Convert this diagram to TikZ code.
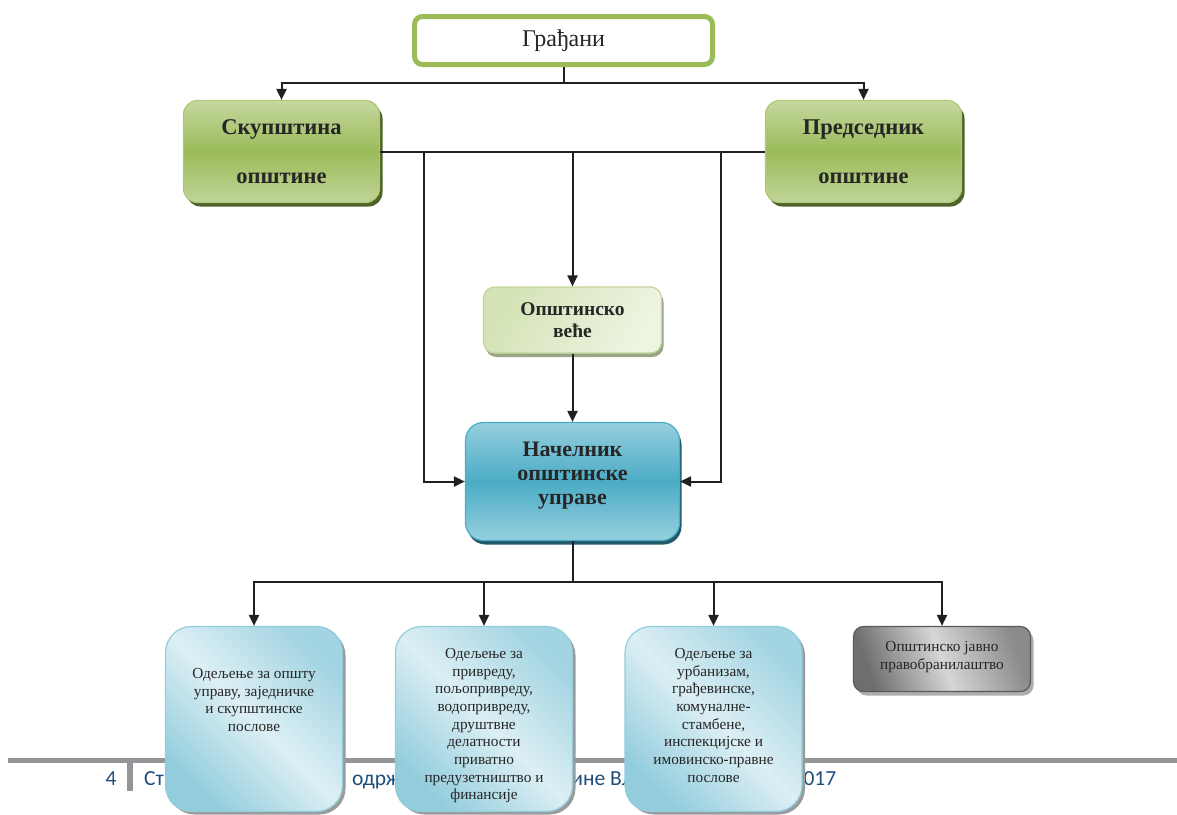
\documentclass[tikz,border=0pt]{standalone}
\usepackage{fontspec}
\setmainfont{Liberation Serif}
\newfontfamily\footfont{Carlito}
\usetikzlibrary{arrows.meta,shadows}
\definecolor{linec}{HTML}{231F20}
\definecolor{olive}{HTML}{9BBB59}
\definecolor{olivelt}{HTML}{C5D89F}
\definecolor{olivedk}{HTML}{4F6228}
\definecolor{palegr}{HTML}{D4E3B6}
\definecolor{palegr2}{HTML}{EEF4E2}
\definecolor{palegrb}{HTML}{C3D69B}
\definecolor{aqua}{HTML}{4BACC6}
\definecolor{aqualt}{HTML}{96CFDE}
\definecolor{aquadk}{HTML}{215968}
\definecolor{sky}{HTML}{93CDDD}
\definecolor{skylt}{HTML}{DCEFF4}
\definecolor{shgray}{HTML}{9A9A9A}
\definecolor{gdark}{HTML}{6E6E6E}
\definecolor{glight}{HTML}{D6D6D6}
\definecolor{gborder}{HTML}{595959}
\definecolor{footgray}{HTML}{939598}
\definecolor{footblue}{HTML}{1F4E7A}
\definecolor{txt}{HTML}{262626}
\begin{document}
\begin{tikzpicture}[x=1pt,y=-1pt,
  ln/.style={draw=linec,line width=2pt},
  arr/.style={draw=linec,line width=2pt,-{Triangle[length=11pt,width=10pt]}},
  topbox/.style={rectangle,inner sep=0pt,rounded corners=14pt,draw=olive!80,line width=1.2pt,
    top color=olivelt,bottom color=olivelt!90!olive,middle color=olive,
    drop shadow={shadow xshift=3pt,shadow yshift=-4pt,fill=olivedk,opacity=1},
    minimum width=196pt,minimum height=102pt,align=center,text=txt,
    font=\fontsize{22.5}{49}\selectfont\bfseries},
  dept/.style={rectangle,inner sep=0pt,rounded corners=26pt,draw=sky,line width=1.2pt,
    left color=sky,right color=sky!85,middle color=skylt,shading angle=135,
    drop shadow={shadow xshift=3pt,shadow yshift=-3pt,fill=shgray,opacity=1},
    minimum width=177pt,minimum height=185pt},
  depttext/.style={align=center,text=txt,inner sep=0pt,anchor=north,
    font=\fontsize{15.3}{17.7}\selectfont},
  foot/.style={text=footblue,font=\footfont\fontsize{21.5}{24}\selectfont,inner sep=0pt}
]
\useasboundingbox (0,0) rectangle (1177,814);
% footer
\fill[footgray] (8,757.5) rectangle (1177,762.5);
\fill[footgray] (127,757.5) rectangle (132.5,791);
\node[foot,anchor=base] (pg) at (111,785) {4};
\node[foot,anchor=base west] (ft) at (144,785) {Стратегија локалног\hspace{20pt} одрживог развоја\hspace{6pt} општине Владичин Хан 2010-2017};
% nodes
\node[rectangle,inner sep=0pt,rounded corners=8pt,draw=olive,line width=5pt,fill=white,
  minimum width=298pt,minimum height=48pt,text=txt,font=\fontsize{24}{26}\selectfont] (g) at (563.5,40.5) {Грађани};
\node[topbox] (s) at (281.5,151.5) {Скупштина\\општине};
\node[topbox] (p) at (863.5,151.5) {Председник\\општине};
\node[rectangle,inner sep=0pt,rounded corners=11pt,draw=palegrb,line width=1.2pt,
  left color=palegr,right color=palegr2,shading angle=60,
  drop shadow={shadow xshift=2pt,shadow yshift=-4pt,fill=shgray!70!olive,opacity=1},
  minimum width=178pt,minimum height=66pt,align=center,text=txt,
  font=\fontsize{19.5}{22.5}\selectfont\bfseries] (v) at (572.5,320) {Општинско\\веће};
\node[rectangle,inner sep=0pt,rounded corners=18pt,draw=aqua,line width=1.2pt,
  top color=aqualt,bottom color=aqualt,middle color=aqua,
  drop shadow={shadow xshift=2pt,shadow yshift=-4pt,fill=aquadk,opacity=1},
  minimum width=214pt,minimum height=118pt] (n) at (572.5,481.5) {};
\node[align=center,text=txt,inner sep=0pt,font=\fontsize{22}{24}\selectfont\bfseries] (nt) at (572.5,476) {Начелник\\општинске\\управе};
\node[dept] (b1) at (254,719) {};
\node[dept] (b2) at (484,719) {};
\node[dept] (b3) at (713.5,719) {};
\node[rectangle,inner sep=0pt,rounded corners=10pt,draw=gborder,line width=1.2pt,
  left color=gdark,right color=gdark!80,middle color=glight,shading angle=110,
  drop shadow={shadow xshift=3pt,shadow yshift=-4pt,fill=shgray!80,opacity=1},
  minimum width=177pt,minimum height=65pt] (b4) at (942,659) {};
\node[align=center,text=txt,inner sep=0pt,font=\fontsize{15.3}{18}\selectfont] (b4t) at (942,657) {Општинско јавно\\правобранилаштво};
\node[depttext] (t1) at (254,668) {Одељење за општу\\управу, заједничке\\и скупштинске\\послове};
\node[depttext] (t2) at (484,648) {Одељење за\\привреду,\\пољопривреду,\\водопривреду,\\друштвне\\делатности\\приватно\\предузетништво и\\финансије};
\node[depttext] (t3) at (713.5,648) {Одељење за\\урбанизам,\\грађевинске,\\комуналне-\\стамбене,\\инспекцијске и\\имовинско-правне\\послове};
% connectors
\coordinate (gj) at (563.5,83);
\draw[ln] (g.south) -- (gj);
\draw[arr] (gj) -| (s.north);
\draw[arr] (gj) -| (p.north);
\draw[ln] (s.east) -- (p.west);
\coordinate (lj) at (424,151.5);
\coordinate (rj) at (721,151.5);
\draw[arr] (lj) |- (n.west);
\draw[arr] (rj) |- (n.east);
\draw[arr] (v.north |- s.east) -- (v.north);
\draw[arr] (v.south) -- (n.north);
\coordinate (nj) at (572.5,582);
\draw[ln] (n.south) -- (nj);
\draw[arr] (nj) -| (b1.north);
\draw[arr] (nj) -| (b2.north);
\draw[arr] (nj) -| (b3.north);
\draw[arr] (nj) -| (b4.north);
\end{tikzpicture}
\end{document}
